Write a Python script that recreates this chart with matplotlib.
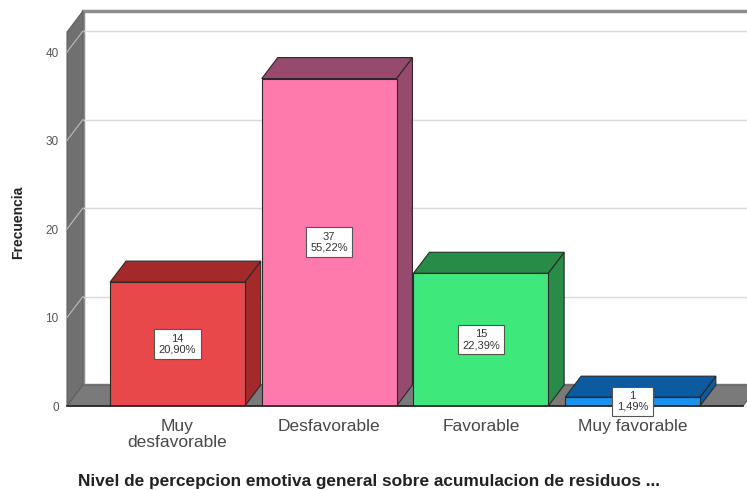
import matplotlib.pyplot as plt
from matplotlib.patches import Polygon, Rectangle

plt.rcParams['font.family'] = ['Liberation Sans', 'DejaVu Sans']

categories = ['Muy\ndesfavorable', 'Desfavorable', 'Favorable', 'Muy favorable']
counts = [14, 37, 15, 1]
percents = ['20,90%', '55,22%', '22,39%', '1,49%']
front_colors = ['#E8484A', '#FF7AAC', '#3EE87A', '#1E90E6']
dark_colors = ['#A3292B', '#964A6E', '#288C48', '#0C5AA0']
yticks = [0, 10, 20, 30, 40]

fig = plt.figure(figsize=(7.47, 4.90), dpi=100)
ax = fig.add_axes([67 / 747, 84 / 490, 676 / 747, 374 / 490])
xl, xr = -0.728, 3.728
ytop = 42.26
ax.set_xlim(xl, xr)
ax.set_ylim(0, ytop)

# depth of the 3d box in data units
ddx, ddy = 0.105, 2.37
half = 0.444

# back wall
ax.add_patch(Rectangle((xl + ddx, ddy), (xr - xl) + 0.5, ytop, facecolor='white',
                       edgecolor='#8c8c8c', lw=2.5, zorder=0, clip_on=False))
for t in yticks[1:]:
    ax.plot([xl + ddx, xr + ddx + 0.5], [t + ddy, t + ddy], color='#d9d9d9', lw=1,
            zorder=1, clip_on=False)

# left wall
ax.add_patch(Polygon([(xl, 0), (xl + ddx, ddy), (xl + ddx, ytop + ddy), (xl, ytop)],
                     closed=True, facecolor='#707070', edgecolor='#606060', lw=0.8,
                     zorder=2, clip_on=False))
for t in yticks[1:]:
    ax.plot([xl, xl + ddx], [t, t + ddy], color='#bdbdbd', lw=0.8, zorder=3, clip_on=False)

# floor
ax.add_patch(Polygon([(xl, 0), (xr, 0), (xr + ddx, ddy), (xl + ddx, ddy)], closed=True,
                     facecolor='#7a7a7a', edgecolor='#606060', lw=0.8, zorder=2,
                     clip_on=False))
ax.plot([xl, xr], [0, 0], color='#222222', lw=1.2, zorder=6, clip_on=False)

# bars
for i, (v, fc, dc) in enumerate(zip(counts, front_colors, dark_colors)):
    x0, x1 = i - half, i + half
    ax.add_patch(Polygon([(x1, 0), (x1 + ddx, ddy), (x1 + ddx, v + ddy), (x1, v)],
                         closed=True, facecolor=dc, edgecolor='#2a2a2a', lw=0.8, zorder=4))
    ax.add_patch(Polygon([(x0, v), (x1, v), (x1 + ddx, v + ddy), (x0 + ddx, v + ddy)],
                         closed=True, facecolor=dc, edgecolor='#2a2a2a', lw=0.8, zorder=4))
    ax.add_patch(Rectangle((x0, 0), x1 - x0, v, facecolor=fc, edgecolor='#2a2a2a',
                           lw=0.8, zorder=5))
    ax.text(i, v / 2, f'{v}\n{percents[i]}', ha='center', va='center', fontsize=8,
            color='#333333', linespacing=1.1, zorder=8,
            bbox=dict(boxstyle='square,pad=0.4', facecolor='white',
                      edgecolor='#555555', lw=0.8))

for s in ax.spines.values():
    s.set_visible(False)
ax.set_yticks(yticks)
ax.set_xticks(range(len(categories)))
ax.set_xticklabels(categories, fontsize=12.5, color='#484848', linespacing=1.15)
ax.tick_params(axis='y', length=0, pad=6, labelsize=8.5, labelcolor='#555555')
ax.tick_params(axis='x', length=0, pad=9)

fig.text(18 / 747, 1 - 222 / 490, 'Frecuencia', rotation=90, ha='center', va='center',
         fontsize=10, fontweight='bold', color='#222222')
fig.text(369 / 747, 1 - 481 / 490,
         'Nivel de percepcion emotiva general sobre acumulacion de residuos ...',
         ha='center', va='center', fontsize=12.4, fontweight='bold', color='#222222')

fig.savefig('out.png', dpi=100)
